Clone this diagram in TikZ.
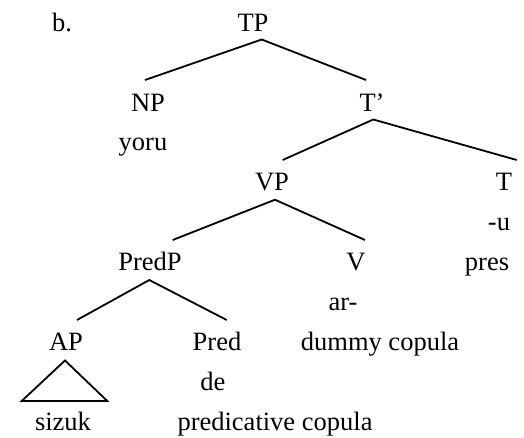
\documentclass[tikz,border=0pt]{standalone}
\usepackage{fontspec}
\setmainfont{Liberation Serif}
\begin{document}
\begin{tikzpicture}[x=1pt,y=-1pt,
  lbl/.style={anchor=base,inner sep=0pt,font=\fontsize{26.5}{30}\selectfont},
  branch/.style={line width=1.8pt,line join=miter}]
\useasboundingbox (0,0) rectangle (524,437);
% labels (positions are text baselines)
\node[lbl] (b)     at (62,31)  {b.};
\node[lbl] (tp)    at (253,31) {TP};
\node[lbl] (np)    at (148,111) {NP};
\node[lbl] (tbar)  at (372,111) {T’};
\node[lbl] (yoru)  at (143,150) {yoru};
\node[lbl] (vp)    at (272,190) {VP};
\node[lbl] (t)     at (504,190) {T};
\node[lbl] (u)     at (499,230) {-u};
\node[lbl] (predp) at (150,270) {PredP};
\node[lbl] (v)     at (356,270) {V};
\node[lbl] (pres)  at (487,270) {pres};
\node[lbl] (ar)    at (343,310) {ar-};
\node[lbl] (ap)    at (66,350)  {AP};
\node[lbl] (pred)  at (217,350) {Pred};
\node[lbl] (dummy) at (380,350) {dummy copula};
\node[lbl] (de)    at (213,390) {de};
\node[lbl] (sizuk) at (63,430)  {sizuk};
\node[lbl] (pcop)  at (275,430) {predicative copula};
% branch points
\coordinate (tp-top)    at (261.7,39.5);
\coordinate (np-end)    at (145,80);
\coordinate (tbar-end)  at (366,80);
\coordinate (tbar-top)  at (373.3,119.5);
\coordinate (vp-end)    at (282.7,160);
\coordinate (t-end)     at (516.7,160);
\coordinate (vp-top)    at (275,199.7);
\coordinate (predp-end) at (172.7,240);
\coordinate (v-end)     at (365,240);
\coordinate (predp-top) at (149.3,280);
\coordinate (ap-end)    at (77,320);
\coordinate (pred-end)  at (226.7,320);
\coordinate (tri-top)   at (65,360.5);
\coordinate (tri-l)     at (21.7,401);
\coordinate (tri-r)     at (107.3,401);
% branches
\draw[branch] (np-end) -- (tp-top) -- (tbar-end);
\draw[branch] (vp-end) -- (tbar-top) -- (t-end);
\draw[branch] (predp-end) -- (vp-top) -- (v-end);
\draw[branch] (ap-end) -- (predp-top) -- (pred-end);
\draw[branch] (tri-top) -- (tri-l) -- (tri-r) -- cycle;
\end{tikzpicture}
\end{document}
